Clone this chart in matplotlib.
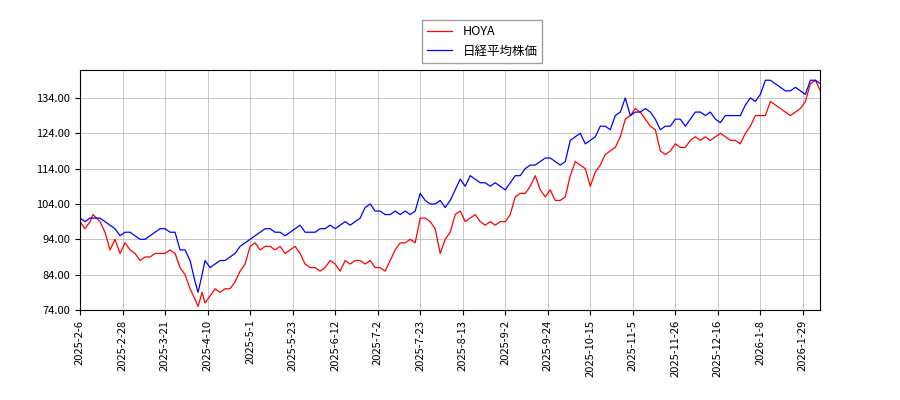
import matplotlib
matplotlib.use("Agg")
import matplotlib.pyplot as plt
import numpy as np

plt.rcParams['font.family'] = ['Noto Sans CJK JP', 'DejaVu Sans']

tick_labels = ["2025-2-6","2025-2-28","2025-3-21","2025-4-10","2025-5-1","2025-5-23","2025-6-12",
               "2025-7-2","2025-7-23","2025-8-13","2025-9-2","2025-9-24","2025-10-15","2025-11-5",
               "2025-11-26","2025-12-16","2026-1-8","2026-1-29"]

px = [80,85,90,93,100,105,110,115,120,125,130,135,140,145,150,155,160,165,170,175,180,185,190,195,198,202,205,
      210,215,220,225,230,235,240,245,250,255,260,265,270,275,280,285,290,295,300,305,310,315,320,325,330,335,
      340,345,350,355,360,365,370,375,380,385,390,395,400,405,410,415,420,425,430,435,440,445,450,455,460,465,
      470,475,480,485,490,495,500,505,510,515,520,525,530,535,540,545,550,555,560,565,570,575,580,585,590,595,
      600,605,610,615,620,625,630,635,640,645,650,655,660,665,670,675,680,685,690,695,700,705,710,715,720,725,
      730,735,740,745,750,755,760,765,770,775,780,785,790,795,800,805,810,815,820]
day_index = [(p - 80) / 2.833 for p in px]

hoya = [99,97,99,101,99,96,91,94,90,93,91,90,88,89,89,90,90,90,91,90,86,84,80,77,75,79,76,
        78,80,79,80,80,82,85,87,92,93,91,92,92,91,92,90,91,92,90,87,86,86,85,86,88,87,
        85,88,87,88,88,87,88,86,86,85,88,91,93,93,94,93,100,100,99,97,90,94,96,101,102,99,
        100,101,99,98,99,98,99,99,101,106,107,107,109,112,108,106,108,105,105,106,112,116,115,114,109,113,
        115,118,119,120,123,128,129,131,130,128,126,125,119,118,119,121,120,120,122,123,122,123,122,123,124,123,
        122,122,121,124,126,129,129,129,133,132,131,130,129,130,131,133,138,139,136]

nikkei = [100,99,100,100,100,99,98,97,95,96,96,95,94,94,95,96,97,97,96,96,91,91,88,82,79,84,88,
          86,87,88,88,89,90,92,93,94,95,96,97,97,96,96,95,96,97,98,96,96,96,97,97,98,97,
          98,99,98,99,100,103,104,102,102,101,101,102,101,102,101,102,107,105,104,104,105,103,105,108,111,109,
          112,111,110,110,109,110,109,108,110,112,112,114,115,115,116,117,117,116,115,116,122,123,124,121,122,123,
          126,126,125,129,130,134,129,130,130,131,130,128,125,126,126,128,128,126,128,130,130,129,130,128,127,129,
          129,129,129,132,134,133,135,139,139,138,137,136,136,137,136,135,139,139,138]

fig = plt.figure(figsize=(9, 4), dpi=100)
ax = fig.add_axes([0.0889, 0.225, 0.822, 0.6])
ax.plot(day_index, hoya, color='red', lw=0.9, label='HOYA')
ax.plot(day_index, nikkei, color='blue', lw=0.9, label='日経平均株価')
ax.set_xlim(0, 261)
ax.set_ylim(74, 141.9)
ax.set_yticks(np.arange(74, 141, 10))
ax.set_yticklabels([f"{v:.2f}" for v in np.arange(74, 141, 10)], fontsize=8)
ax.set_xticks(np.arange(len(tick_labels)) * 15)
ax.set_xticklabels(tick_labels, rotation=90, fontsize=8)
ax.grid(True, color='#bbbbbb', lw=0.6)
fig.legend(loc='upper center', bbox_to_anchor=(0.536, 0.965), fontsize=9, fancybox=False, edgecolor='#888888')
fig.savefig('out.png')
